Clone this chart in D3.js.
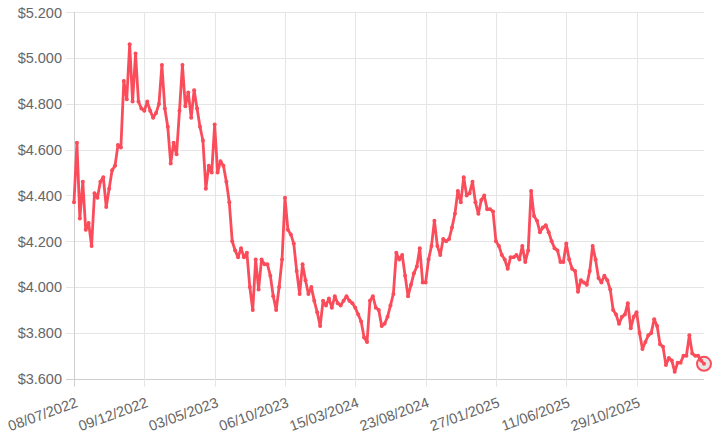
<!DOCTYPE html>
<html>
<head>
<meta charset="utf-8">
<script src="https://cdn.jsdelivr.net/npm/d3@7"></script>
<style>
  html, body { margin: 0; padding: 0; background: #fff; }
  svg { display: block; font-family: "Liberation Sans", Arial, Helvetica, sans-serif; }
</style>
</head>
<body>
<div id="chart"></div>
<script>
// Rótulos do eixo X (um a cada 24 pontos)
const tickLabels = ["08/07/2022", "09/12/2022", "03/05/2023", "06/10/2023", "15/03/2024",
                    "23/08/2024", "27/01/2025", "11/06/2025", "29/10/2025"];
const labelStep = 24;

// Marcas do eixo Y
const yTicks = [3.6, 3.8, 4.0, 4.2, 4.4, 4.6, 4.8, 5.0, 5.2];

// Preços
const prices = [
  4.37, 4.63, 4.30, 4.46, 4.25, 4.28, 4.18, 4.41, 4.39, 4.46,
  4.48, 4.35, 4.43, 4.51, 4.53, 4.62, 4.61, 4.90, 4.82, 5.06,
  4.81, 5.02, 4.81, 4.78, 4.77, 4.81, 4.77, 4.74, 4.76, 4.80,
  4.97, 4.78, 4.70, 4.54, 4.63, 4.58, 4.77, 4.97, 4.79, 4.85,
  4.74, 4.86, 4.78, 4.70, 4.64, 4.43, 4.53, 4.50, 4.71, 4.50,
  4.55, 4.53, 4.46, 4.37, 4.20, 4.16, 4.13, 4.17, 4.13, 4.15,
  4.00, 3.90, 4.12, 3.99, 4.12, 4.10, 4.10, 4.05, 3.96, 3.90,
  4.00, 4.12, 4.39, 4.25, 4.23, 4.19, 4.07, 3.97, 4.10, 4.03,
  3.97, 4.00, 3.94, 3.89, 3.83, 3.94, 3.92, 3.95, 3.91, 3.96,
  3.93, 3.92, 3.94, 3.96, 3.94, 3.93, 3.91, 3.88, 3.85, 3.78,
  3.76, 3.94, 3.96, 3.91, 3.90, 3.83, 3.84, 3.87, 3.92, 3.97,
  4.15, 4.12, 4.14, 4.05, 3.96, 4.01, 4.06, 4.09, 4.17, 4.02,
  4.02, 4.12, 4.18, 4.29, 4.18, 4.14, 4.21, 4.20, 4.21, 4.26,
  4.32, 4.42, 4.37, 4.48, 4.40, 4.41, 4.46, 4.37, 4.32, 4.38,
  4.40, 4.34, 4.34, 4.33, 4.20, 4.18, 4.14, 4.12, 4.08, 4.13,
  4.13, 4.14, 4.12, 4.18, 4.11, 4.16, 4.42, 4.31, 4.29, 4.24,
  4.26, 4.27, 4.24, 4.20, 4.17, 4.16, 4.11, 4.11, 4.19, 4.12,
  4.08, 4.07, 3.98, 4.03, 4.02, 4.01, 4.07, 4.18, 4.12, 4.04,
  4.02, 4.05, 4.03, 3.99, 3.90, 3.88, 3.84, 3.87, 3.88, 3.93,
  3.82, 3.87, 3.89, 3.80, 3.73, 3.76, 3.79, 3.80, 3.86, 3.83,
  3.75, 3.74, 3.66, 3.69, 3.68, 3.63, 3.67, 3.67, 3.70, 3.70,
  3.79, 3.71, 3.70, 3.70, 3.68, 3.665
];

const lineColor = "rgb(250, 76, 90)";
const gridColor = "#e5e5e5";
const axisColor = "#cfcfcf";
const textColor = "#666";

const fullWidth = 715;
const fullHeight = 437;
const margin = { top: 12.3, right: 11, bottom: 58.3, left: 74 };
const tickLen = 8;

const svg = d3.select("#chart").append("svg")
    .attr("width", fullWidth)
    .attr("height", fullHeight);

const x = d3.scaleLinear()
    .domain([0, prices.length - 1])
    .range([margin.left, fullWidth - margin.right]);

const y = d3.scaleLinear()
    .domain([3.6, 5.2])
    .range([fullHeight - margin.bottom, margin.top]);

const fmt = d3.format("$.3f");

// Grade horizontal + rótulos Y
const gy = svg.append("g");
gy.selectAll("line")
    .data(yTicks)
    .enter()
    .append("line")
        .attr("x1", margin.left - tickLen)
        .attr("x2", fullWidth - margin.right)
        .attr("y1", d => Math.round(y(d)) + 0.5)
        .attr("y2", d => Math.round(y(d)) + 0.5)
        .attr("stroke", (d, i) => i === 0 ? axisColor : gridColor)
        .attr("stroke-width", 1);

gy.selectAll("text")
    .data(yTicks)
    .enter()
    .append("text")
        .attr("x", margin.left - tickLen - 4)
        .attr("y", d => y(d))
        .attr("dy", "0.36em")
        .attr("text-anchor", "end")
        .attr("fill", textColor)
        .style("font-size", "14.5px")
        .text(d => fmt(d));

// Grade vertical + rótulos X
const tickIdx = tickLabels.map((d, i) => i * labelStep);
const gx = svg.append("g");
gx.selectAll("line")
    .data(tickIdx)
    .enter()
    .append("line")
        .attr("x1", d => Math.round(x(d)) + 0.5)
        .attr("x2", d => Math.round(x(d)) + 0.5)
        .attr("y1", margin.top)
        .attr("y2", fullHeight - margin.bottom + tickLen)
        .attr("stroke", (d, i) => i === 0 ? axisColor : gridColor)
        .attr("stroke-width", 1);

gx.selectAll("text")
    .data(tickLabels)
    .enter()
    .append("text")
        .attr("transform", (d, i) => `translate(${x(tickIdx[i]) + 1},${fullHeight - margin.bottom + tickLen + 10}) rotate(-20)`)
        .attr("dy", "0.72em")
        .attr("text-anchor", "end")
        .attr("fill", textColor)
        .style("font-size", "14.5px")
        .text(d => d);

// Ponto ativo (último)
const last = prices.length - 1;
svg.append("circle")
    .attr("cx", x(last))
    .attr("cy", y(prices[last]))
    .attr("r", 7)
    .attr("fill", "#e6e6e6")
    .attr("stroke", lineColor)
    .attr("stroke-width", 2);

// Linha
const line = d3.line()
    .x((d, i) => x(i))
    .y(d => y(d));

svg.append("path")
    .datum(prices)
    .attr("fill", "none")
    .attr("stroke", lineColor)
    .attr("stroke-width", 2.8)
    .attr("stroke-linejoin", "round")
    .attr("d", line);

svg.append("g")
    .selectAll("circle")
    .data(prices)
    .enter()
    .append("circle")
        .attr("cx", (d, i) => x(i))
        .attr("cy", d => y(d))
        .attr("r", 2)
        .attr("fill", lineColor);
</script>
</body>
</html>
